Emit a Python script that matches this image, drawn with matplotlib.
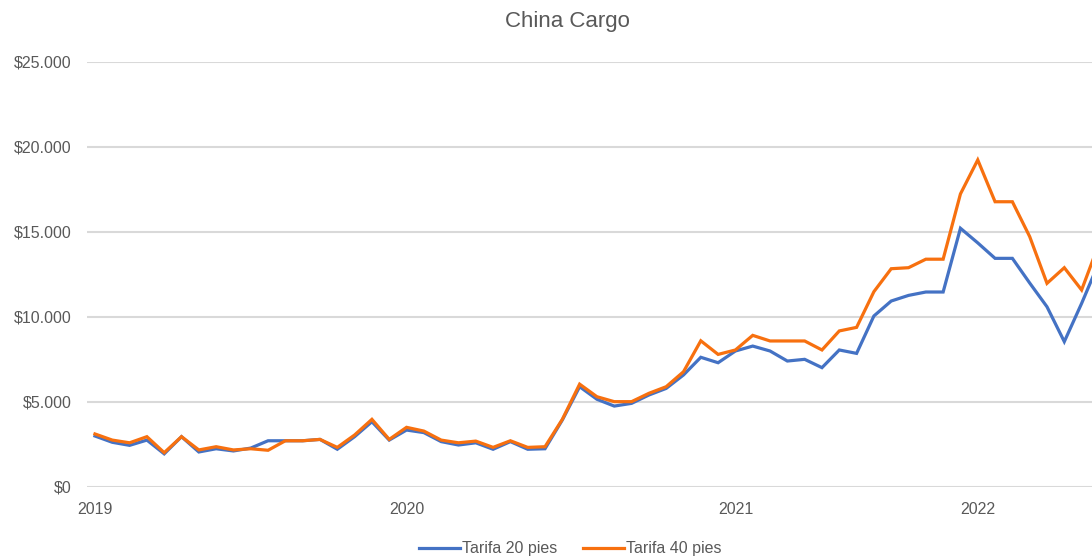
import matplotlib.pyplot as plt
import matplotlib.ticker as mticker

# freight rates, USD per container (index = sample number)
tarifa_20 = [3000, 2630, 2450, 2760, 1950, 2960, 2060, 2250, 2120, 2290,
             2720, 2720, 2720, 2800, 2220, 2960, 3840, 2760, 3350, 3200,
             2670, 2470, 2600, 2220, 2670, 2220, 2250, 3940, 5900, 5160,
             4760, 4920, 5410, 5800, 6590, 7630, 7310, 8000, 8290, 8000,
             7410, 7510, 7020, 8060, 7860, 10060, 10940, 11270, 11470, 11470,
             15220, 14360, 13450, 13450, 12000, 10600, 8550, 10800, 13200]
tarifa_40 = [3120, 2760, 2600, 2960, 2020, 2960, 2180, 2370, 2180, 2250,
             2160, 2720, 2720, 2800, 2330, 3060, 3980, 2800, 3510, 3290,
             2760, 2600, 2700, 2330, 2720, 2330, 2370, 3980, 6050, 5310,
             5020, 5020, 5510, 5900, 6780, 8600, 7800, 8060, 8920, 8590,
             8590, 8590, 8060, 9180, 9390, 11490, 12840, 12900, 13400, 13400,
             17240, 19240, 16780, 16780, 14730, 11980, 12900, 11590, 14300]
year_pos = [0, 18, 37, 51]
year_labels = ['2019', '2020', '2021', '2022']

txt = '#595959'
plt.rcParams['font.family'] = ['Liberation Sans', 'DejaVu Sans']

fig = plt.figure(figsize=(10.92, 5.58), dpi=100)
ax = fig.add_axes([87 / 1092, 1 - 487 / 558, 1 - 87 / 1092, 425 / 558])

x = list(range(len(tarifa_20)))
ax.plot(x, tarifa_20, color='#4472C4', lw=2.3, label='Tarifa 20 pies',
        solid_joinstyle='miter')
ax.plot(x, tarifa_40, color='#F7700F', lw=2.3, label='Tarifa 40 pies',
        solid_joinstyle='miter')

ax.set_xlim(-0.46, 57.6)
ax.set_ylim(0, 25000)
ax.set_yticks(range(0, 25001, 5000))
ax.yaxis.set_major_formatter(mticker.FuncFormatter(
    lambda v, p: '$' + format(int(v), ',').replace(',', '.')))
ax.set_xticks(year_pos)
ax.set_xticklabels(year_labels)
ax.tick_params(axis='both', length=0, colors=txt, labelsize=11.5)
ax.tick_params(axis='y', pad=11)
ax.tick_params(axis='x', pad=11)
ax.grid(axis='y', color='#D9D9D9', lw=1.5)
ax.set_axisbelow(True)
for s in ax.spines.values():
    s.set_visible(False)

fig.text(567 / 1092, 1 - 22 / 558, 'China Cargo', ha='center', va='center',
         fontsize=16, color=txt)
fig.legend(loc='center', bbox_to_anchor=(570 / 1092, 1 - 549 / 558), ncol=2,
           frameon=False, fontsize=11.5, labelcolor=txt, handlelength=2.6,
           handletextpad=0.1, columnspacing=1.6)

fig.savefig('out.png', dpi=100)
